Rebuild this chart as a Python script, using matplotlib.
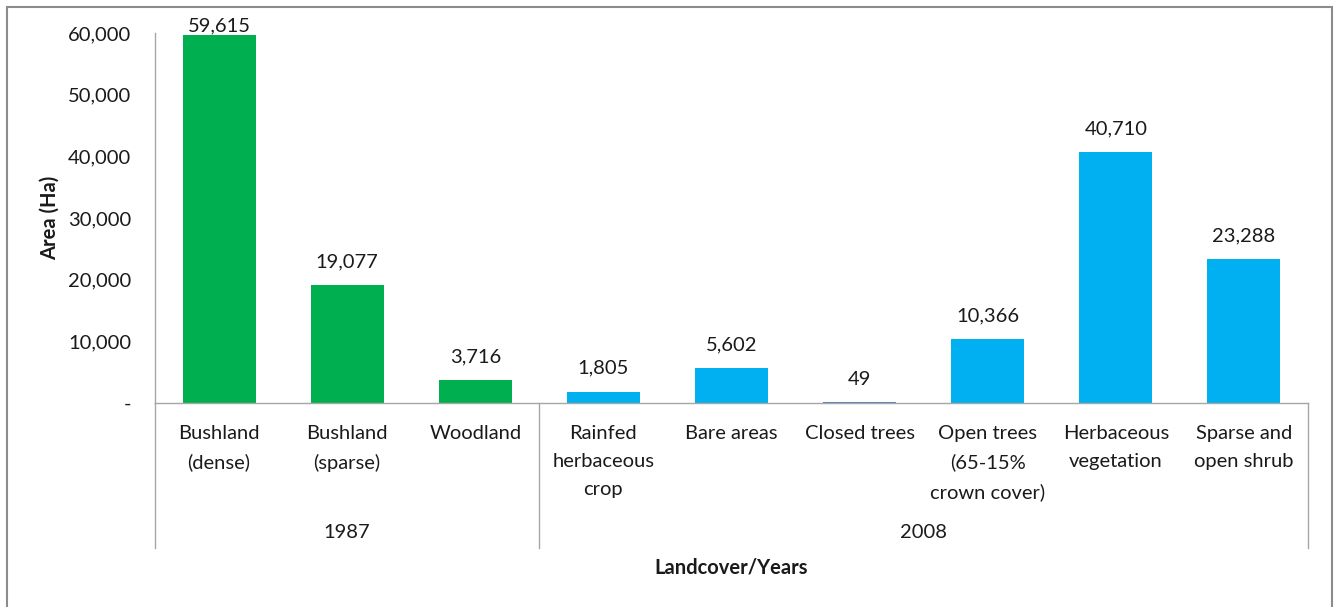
import matplotlib
matplotlib.use("Agg")
import matplotlib.pyplot as plt
from matplotlib.patches import Rectangle
from matplotlib.lines import Line2D

plt.rcParams["font.family"] = ["Lato", "DejaVu Sans"]

# land cover classes and areas (ha)
years = ["1987", "2008"]
classes_1987 = ["Bushland\n(dense)", "Bushland\n(sparse)", "Woodland"]
classes_2008 = ["Rainfed\nherbaceous\ncrop", "Bare areas", "Closed trees",
                "Open trees\n(65-15%\ncrown cover)", "Herbaceous\nvegetation",
                "Sparse and\nopen shrub"]
area_1987 = [59615, 19077, 3716]
area_2008 = [1805, 5602, 49, 10366, 40710, 23288]

green = "#00B050"
blue = "#00B0F0"
closed_blue = "#4F81BD"
grid_grey = "#A6A6A6"
text_col = "#1a1a1a"
fs = 14.5

W, H = 1338, 607
fig = plt.figure(figsize=(W / 100, H / 100), dpi=100)
ax = fig.add_axes([155 / W, (H - 403) / H, (1308 - 155) / W, 370 / H])

labels = classes_1987 + classes_2008
values = area_1987 + area_2008
colors = [green] * len(area_1987) + [blue] * len(area_2008)
colors[len(area_1987) + 2] = closed_blue
x = list(range(len(values)))

bars = ax.bar(x, values, width=0.57, color=colors, zorder=2)
# the tiny closed-trees bar only shows as a thin line
bars[len(area_1987) + 2].set_edgecolor(closed_blue)
bars[len(area_1987) + 2].set_linewidth(1.5)

ymax = 60000
ax.set_xlim(-0.5, len(values) - 0.5)
ax.set_ylim(0, ymax)
ax.set_yticks(range(0, ymax + 1, 10000))
ax.set_yticklabels(["-"] + [f"{v:,}" for v in range(10000, ymax + 1, 10000)])
ax.tick_params(axis="y", length=0, pad=17, labelsize=fs, labelcolor=text_col)
ax.set_xticks([])
for s in ["top", "right"]:
    ax.spines[s].set_visible(False)
for s in ["left", "bottom"]:
    ax.spines[s].set_color(grid_grey)
    ax.spines[s].set_linewidth(1)

# value labels; the tallest one is squeezed down under the frame
for xi, v in zip(x, values):
    off = 18 if v < 0.95 * ymax else 4
    ax.annotate(f"{v:,}", (xi, v), xytext=(0, off), textcoords="offset pixels",
                ha="center", va="baseline", fontsize=fs, color=text_col)

xt = ax.get_xaxis_transform()
for xi, lab in zip(x, labels):
    ax.annotate(lab, (xi, 0), xycoords=xt, xytext=(0, -22), textcoords="offset pixels",
                ha="center", va="top", fontsize=fs, color=text_col, linespacing=1.78)

# year groups and separators under the category axis
n1 = len(area_1987)
groups = [(0, n1), (n1, len(values))]
for (a, b), yr in zip(groups, years):
    ax.annotate(yr, ((a + b - 1) / 2, 0), xycoords=xt, xytext=(0, -130),
                textcoords="offset pixels", ha="center", va="center",
                fontsize=fs, color=text_col)
for edge in [-0.5, n1 - 0.5, len(values) - 0.5]:
    ax.add_line(Line2D([edge, edge], [0, -145 / 370], transform=xt, color=grid_grey,
                       linewidth=1, clip_on=False))

ax.set_ylabel("Area (Ha)", fontsize=fs, fontweight="bold", color=text_col, labelpad=6)
fig.text((155 + 1308) / 2 / W, (H - 567) / H, "Landcover/Years", ha="center",
         va="center", fontsize=fs, fontweight="bold", color=text_col)

# chart frame
fig.patches.append(Rectangle((7 / W, -0.1), (1332 - 7) / W, (H - 7) / H + 0.1,
                             transform=fig.transFigure, fill=False,
                             edgecolor="#8C8C8C", linewidth=1.5))

fig.savefig("out.png", dpi=100)
